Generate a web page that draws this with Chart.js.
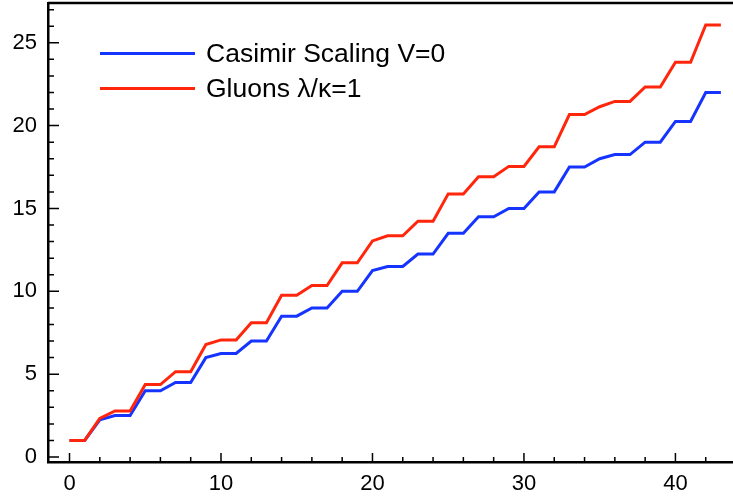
<!DOCTYPE html>
<html>
<head>
<meta charset="utf-8">
<script src="https://cdn.jsdelivr.net/npm/chart.js@4/dist/chart.umd.min.js"></script>
<style>
  html, body { margin: 0; padding: 0; background: #fff; }
  #wrap { width: 733px; height: 499px; }
</style>
</head>
<body>
<div id="wrap"><canvas id="stringChart" width="733" height="499"></canvas></div>
<script>
const xValues = [0, 1, 2, 3, 4, 5, 6, 7, 8, 9, 10, 11, 12, 13, 14, 15, 16, 17, 18, 19, 20, 21,
    22, 23, 24, 25, 26, 27, 28, 29, 30, 31, 32, 33, 34, 35, 36, 37, 38, 39, 40, 41, 42, 43];
const casimir = [1, 1, 2.25, 2.5, 2.5, 4, 4, 4.5, 4.5, 6, 6.25, 6.25, 7, 7, 8.5, 8.5, 9, 9, 10, 10,
    11.25, 11.5, 11.5, 12.25, 12.25, 13.5, 13.5, 14.5, 14.5, 15, 15, 16, 16, 17.5, 17.5, 18,
    18.25, 18.25, 19, 19, 20.25, 20.25, 22, 22];
const gluons = [1, 1, 2.33, 2.78, 2.78, 4.37, 4.37, 5.15, 5.15, 6.79, 7.07, 7.07, 8.11, 8.11,
    9.76, 9.76, 10.35, 10.35, 11.72, 11.72, 13.04, 13.35, 13.35, 14.23, 14.23, 15.88, 15.88,
    16.91, 16.91, 17.54, 17.54, 18.72, 18.72, 20.67, 20.67, 21.14, 21.46, 21.46, 22.33, 22.33,
    23.82, 23.82, 26.07, 26.07];
const seriesNames = ["Casimir Scaling V=0", "Gluons \u03bb/\u03ba=1"];
const xTicks = [0, 10, 20, 30, 40];
const yTicks = [0, 5, 10, 15, 20, 25];
const xMinor = [2, 4, 6, 8, 12, 14, 16, 18, 22, 24, 26, 28, 32, 34, 36, 38, 42];
const yMinor = [1, 2, 3, 4, 6, 7, 8, 9, 11, 12, 13, 14, 16, 17, 18, 19, 21, 22, 23, 24, 26, 27];

const FONT = "'Liberation Sans', Arial, Helvetica, sans-serif";

function points(ys) {
    return xValues.map(function (x, i) { return { x: x, y: ys[i] }; });
}

// inward ticks, top frame line and the legend inside the plot
const framePlugin = {
    id: "frame",
    afterDatasetsDraw: function (chart) {
        const ctx = chart.ctx;
        const area = chart.chartArea;
        const xs = chart.scales.x;
        const ys = chart.scales.y;
        ctx.save();
        ctx.strokeStyle = "#000";
        ctx.lineWidth = 1.5;
        ctx.beginPath();
        xTicks.forEach(function (v) {
            const px = xs.getPixelForValue(v);
            ctx.moveTo(px, area.bottom); ctx.lineTo(px, area.bottom - 9);
        });
        xMinor.forEach(function (v) {
            const px = xs.getPixelForValue(v);
            ctx.moveTo(px, area.bottom); ctx.lineTo(px, area.bottom - 5);
        });
        yTicks.forEach(function (v) {
            const py = ys.getPixelForValue(v);
            ctx.moveTo(area.left, py); ctx.lineTo(area.left + 11, py);
        });
        yMinor.forEach(function (v) {
            const py = ys.getPixelForValue(v);
            ctx.moveTo(area.left, py); ctx.lineTo(area.left + 6, py);
        });
        ctx.stroke();
        ctx.lineWidth = 2.5;
        ctx.beginPath();
        ctx.moveTo(area.left, area.top);
        ctx.lineTo(area.right, area.top);
        ctx.stroke();

        // legend
        const rows = [0, 1];
        rows.forEach(function (i) {
            const ds = chart.data.datasets[i];
            const y = 53.5 + i * 35;
            ctx.strokeStyle = ds.borderColor;
            ctx.lineWidth = 3;
            ctx.beginPath();
            ctx.moveTo(100, y); ctx.lineTo(195, y);
            ctx.stroke();
            ctx.fillStyle = "#000";
            ctx.font = "26.5px " + FONT;
            ctx.textBaseline = "middle";
            ctx.textAlign = "left";
            ctx.fillText(ds.label, 206, y + 1);
        });
        ctx.restore();
    },
};

function noPad(axis) {
    axis.paddingTop = 0;
    axis.paddingBottom = 0;
    axis.paddingLeft = 0;
    axis.paddingRight = 0;
}

const ctx = document.getElementById("stringChart").getContext("2d");

new Chart(ctx, {
    type: "line",
    data: {
        datasets: [
            {
                label: seriesNames[0],
                data: points(casimir),
                borderColor: "rgb(22, 52, 255)",
                borderWidth: 3,
                pointRadius: 0,
                fill: false,
                tension: 0,
                order: 1,
            },
            {
                label: seriesNames[1],
                data: points(gluons),
                borderColor: "rgb(255, 38, 12)",
                borderWidth: 3,
                pointRadius: 0,
                fill: false,
                tension: 0,
                order: 0,
            },
        ],
    },
    options: {
        responsive: false,
        animation: false,
        layout: { padding: { top: 3, right: 0, left: 0, bottom: 0 } },
        plugins: {
            legend: { display: false },
            tooltip: { enabled: false },
        },
        scales: {
            x: {
                type: "linear",
                min: -1.42,
                max: 43.8,
                afterBuildTicks: function (axis) {
                    axis.ticks = xTicks.map(function (v) { return { value: v }; });
                },
                afterFit: function (axis) { axis.height = 37; noPad(axis); },
                grid: { display: true, drawOnChartArea: false, drawTicks: false },
                border: { display: true, color: "#000", width: 2.5 },
                ticks: {
                    color: "#000",
                    padding: 9,
                    maxRotation: 0,
                    autoSkip: false,
                    font: { family: FONT, size: 22 },
                },
            },
            y: {
                type: "linear",
                min: -0.3,
                max: 27.4,
                afterBuildTicks: function (axis) {
                    axis.ticks = yTicks.map(function (v) { return { value: v }; });
                },
                afterFit: function (axis) { axis.width = 48; noPad(axis); },
                grid: { display: true, drawOnChartArea: false, drawTicks: false },
                border: { display: true, color: "#000", width: 2.5 },
                ticks: {
                    color: "#000",
                    padding: 11,
                    font: { family: FONT, size: 22 },
                },
            },
        },
    },
    plugins: [framePlugin],
});
</script>
</body>
</html>
